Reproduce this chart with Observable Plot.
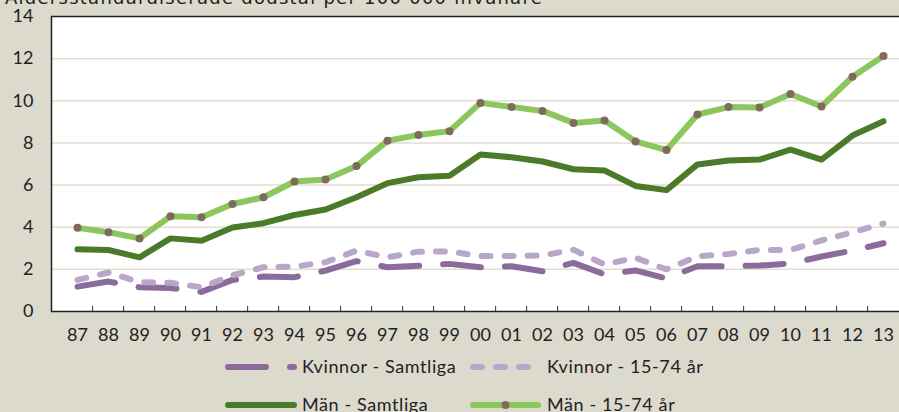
<!DOCTYPE html>
<html><head><meta charset="utf-8">
<script src="https://cdn.jsdelivr.net/npm/d3@7"></script>
<script src="https://cdn.jsdelivr.net/npm/@observablehq/plot@0.6"></script>
<style>
body{margin:0;background:#dcd9cd;overflow:hidden;width:899px;height:412px;position:relative;font-family:Lato,sans-serif;color:#222}
#title{position:absolute;left:5px;top:-11px;font-family:"DejaVu Sans",sans-serif;font-size:18px;line-height:18px;white-space:nowrap}
#chart{position:absolute;left:0;top:0}
.lt{position:absolute;font-size:18px;line-height:20px;white-space:nowrap;letter-spacing:0.6px}
.ls{position:absolute;overflow:visible}
</style></head><body>
<div id="title">Åldersstandardiserade dödstal per 100 000 invånare</div>
<div id="chart"></div>
<div id="legend"></div>
<script>
const years = ["87","88","89","90","91","92","93","94","95","96","97","98","99","00","01","02","03","04","05","06","07","08","09","10","11","12","13"];
const kvinnorSamtliga = [1.18,1.42,1.15,1.12,0.93,1.5,1.66,1.63,1.94,2.39,2.1,2.17,2.26,2.1,2.15,1.91,2.31,1.76,1.95,1.57,2.15,2.15,2.18,2.28,2.61,2.89,3.24];
const kvinnor1574 = [1.5,1.85,1.39,1.36,1.15,1.72,2.1,2.13,2.34,2.89,2.57,2.84,2.85,2.63,2.63,2.66,2.93,2.23,2.55,2.0,2.62,2.73,2.92,2.92,3.37,3.76,4.17];
const manSamtliga = [2.95,2.92,2.57,3.47,3.36,3.99,4.19,4.58,4.84,5.42,6.09,6.37,6.44,7.45,7.32,7.12,6.75,6.69,5.96,5.76,6.98,7.17,7.21,7.68,7.21,8.35,9.03];
const man1574 = [3.97,3.76,3.47,4.52,4.47,5.1,5.42,6.17,6.26,6.9,8.1,8.38,8.56,9.9,9.71,9.52,8.95,9.06,8.07,7.66,9.35,9.7,9.68,10.32,9.73,11.14,12.12];
const seriesNames = ["Kvinnor - Samtliga","Kvinnor - 15-74 år","Män - Samtliga","Män - 15-74 år"];
const yTicks = [0,2,4,6,8,10,12,14];
const gridTicks = [2,4,6,8,10,12];

const colors = {purple:"#8a6b9b", lightPurple:"#baa6c9", darkGreen:"#4a7a2a", lightGreen:"#8cc75e", dot:"#7e6b5d"};

const rows = (vals, s) => years.map((y,i)=>({year:y, v:vals[i], s}));
const dKS = rows(kvinnorSamtliga, seriesNames[0]);
const dK = rows(kvinnor1574, seriesNames[1]);
const dMS = rows(manSamtliga, seriesNames[2]);
const dM = rows(man1574, seriesNames[3]);

const W = 910, ML = 51, MR = 1;
const step = (W - ML - MR) / years.length;

const chart = Plot.plot({
  width: W, height: 345, marginTop: 16, marginBottom: 34, marginLeft: ML, marginRight: MR,
  style: {fontFamily: "Lato, sans-serif", fontSize: "18px", color: "#222", background: "transparent", maxWidth: "none", overflow: "visible"},
  x: {type: "point", domain: years, padding: 0.5, label: null, tickSize: 0, tickPadding: 17},
  y: {domain: [0, 14], ticks: yTicks, tickSize: 0, tickPadding: 18, label: null},
  marks: [
    Plot.frame({fill: "white", stroke: "none"}),
    Plot.ruleY(gridTicks, {stroke: "#e0ddd2", strokeWidth: 1.5}),
    Plot.ruleX(years.slice(1), {x: d => d, y1: 0, y2: 0.24, dx: -step/2, stroke: "#333", strokeWidth: 1}),
    Plot.line(dKS, {x: "year", y: "v", stroke: colors.purple, strokeWidth: 6, strokeDasharray: "38,24", strokeLinecap: "round", strokeLinejoin: "round"}),
    Plot.line(dK, {x: "year", y: "v", stroke: colors.lightPurple, strokeWidth: 6, strokeDasharray: "9,14", strokeLinecap: "round", strokeLinejoin: "round"}),
    Plot.line(dMS, {x: "year", y: "v", stroke: colors.darkGreen, strokeWidth: 6, strokeLinejoin: "round"}),
    Plot.line(dM, {x: "year", y: "v", stroke: colors.lightGreen, strokeWidth: 6, strokeLinejoin: "round"}),
    Plot.dot(dM, {x: "year", y: "v", fill: colors.dot, r: 4}),
    Plot.frame({stroke: "#222", strokeWidth: 1.5})
  ]
});
document.getElementById("chart").appendChild(chart);

// widen the title to the reference's span
const title = document.getElementById("title");
const tw = title.getBoundingClientRect().width;
const targetW = 538;
const nChars = title.textContent.length;
if (tw < targetW) title.style.letterSpacing = ((targetW - tw) / nChars) + "px";

// legend
const legend = document.getElementById("legend");
const items = [
  {name: seriesNames[0], x1: 228, x2: 294, y: 367, color: colors.purple, dash: "38,24", tx: 302},
  {name: seriesNames[1], x1: 473, x2: 531, y: 367, color: colors.lightPurple, dash: "9,14", tx: 547},
  {name: seriesNames[2], x1: 228, x2: 294, y: 405, color: colors.darkGreen, dash: null, tx: 302},
  {name: seriesNames[3], x1: 473, x2: 538, y: 405, color: colors.lightGreen, dash: null, tx: 547, dot: true}
];
const ns = "http://www.w3.org/2000/svg";
for (const it of items) {
  const svg = document.createElementNS(ns, "svg");
  svg.setAttribute("class", "ls");
  svg.setAttribute("width", 90); svg.setAttribute("height", 20);
  svg.style.left = (it.x1 - 10) + "px"; svg.style.top = (it.y - 10) + "px";
  const ln = document.createElementNS(ns, "line");
  ln.setAttribute("x1", 10); ln.setAttribute("x2", 10 + it.x2 - it.x1);
  ln.setAttribute("y1", 10); ln.setAttribute("y2", 10);
  ln.setAttribute("stroke", it.color); ln.setAttribute("stroke-width", 6);
  ln.setAttribute("stroke-linecap", "round");
  if (it.dash) ln.setAttribute("stroke-dasharray", it.dash);
  svg.appendChild(ln);
  if (it.dot) {
    const c = document.createElementNS(ns, "circle");
    c.setAttribute("cx", 10 + (it.x2 - it.x1)/2); c.setAttribute("cy", 10); c.setAttribute("r", 4);
    c.setAttribute("fill", colors.dot);
    svg.appendChild(c);
  }
  legend.appendChild(svg);
  const t = document.createElement("div");
  t.className = "lt";
  t.textContent = it.name;
  t.style.left = it.tx + "px";
  t.style.top = (it.y - 11) + "px";
  legend.appendChild(t);
}
</script>
</body></html>
